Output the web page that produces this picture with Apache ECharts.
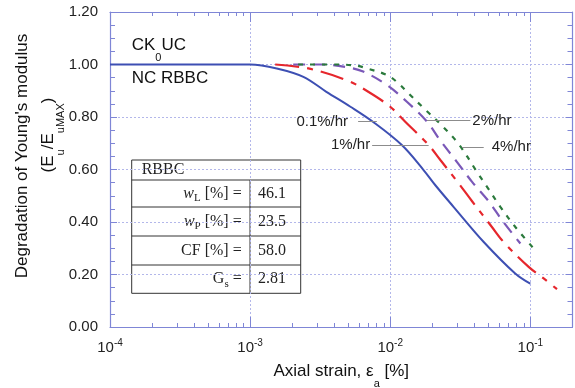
<!DOCTYPE html>
<html><head><meta charset="utf-8">
<script src="https://cdn.jsdelivr.net/npm/echarts@6/dist/echarts.min.js"></script>
<style>html,body{margin:0;padding:0;background:#fff}#c{width:575px;height:388px}</style>
</head><body><div id="c"></div>
<script>
// ---- data ----
const strain01 = [0.0001,0.001,0.00155,0.0024,0.0035,0.0052,0.0076,0.0121,0.0173,0.021,0.0283,0.0465,0.078,0.1];
const modulus01 = [1.0,1.0,0.985,0.953,0.896,0.839,0.78,0.693,0.598,0.540,0.458,0.324,0.204,0.165];
const strain1 = [0.00151,0.0026,0.005,0.00697,0.01,0.0128,0.0188,0.0228,0.0308,0.0384,0.0532,0.0644,0.0973,0.1245,0.155];
const modulus1 = [1.0,0.985,0.938,0.896,0.839,0.782,0.693,0.636,0.547,0.479,0.381,0.324,0.229,0.185,0.144];
const strain2 = [0.00203,0.00327,0.00477,0.00641,0.00946,0.01315,0.0183,0.0228,0.0299,0.0384,0.0504,0.0628,0.0849];
const modulus2 = [1.0,1.0,0.991,0.973,0.922,0.858,0.782,0.71,0.629,0.553,0.479,0.407,0.318];
const strain4 = [0.0022,0.00418,0.00581,0.00682,0.00946,0.01146,0.0135,0.0178,0.0234,0.0308,0.0416,0.0491,0.0611,0.0782,0.1057];
const modulus4 = [1.0,1.0,0.995,0.985,0.960,0.928,0.89,0.828,0.767,0.697,0.591,0.534,0.458,0.381,0.299];
const rateLabels = ['0.1%/hr','1%/hr','2%/hr','4%/hr'];
const xMajorTicks = [1e-4,1e-3,1e-2,1e-1];
const xMinorTicks = [];
[1e-4,1e-3,1e-2,1e-1].forEach(d => { for (let m = 2; m <= 9; m++) { const v = +(m*d).toPrecision(3); if (v <= 0.2) xMinorTicks.push(v); } });
const tableHeader = 'RBBC';
const tableLabels = ['{i|w}{s|L} [%] =','{i|w}{s|P} [%] =','CF [%] =','G{s|s} ='];
const tableValues = ['46.1','23.5','58.0','2.81'];
// leader lines: [strainStart, strainEnd, value]
const leaders = [[0.0059,0.00803,0.782],[0.00743,0.0188,0.693],[0.0183,0.0373,0.786],[0.0325,0.0465,0.686]];

// ---- styling ----
const axisColor = '#7f86d6';
const gridColor = '#b3b7ea';
const sans = 'Liberation Sans, Arial, sans-serif';
const serif = 'Liberation Serif, Times New Roman, serif';
const zip = (a,b) => a.map((v,i)=>[v,b[i]]);

function xAxisDef(pos, major, showLabel) {
  return {
    type:'log', logBase:10, min:1e-4, max:0.2, position:pos, gridIndex:0,
    axisLine:{show:major, lineStyle:{color:axisColor,width:1.2}},
    axisTick:{show:true, inside:true, length: major?10:4, customValues: major?xMajorTicks:xMinorTicks, lineStyle:{color:axisColor}},
    minorTick:{show:false},
    splitLine:{show: major && pos==='bottom', lineStyle:{color:gridColor, type:[2,2], width:1}},
    axisLabel:{show:showLabel, customValues:xMajorTicks, margin:11, color:'#222', fontSize:15, fontFamily:sans, lineHeight:20,
      formatter: v => '10{sup|' + Math.round(Math.log10(v)) + '}',
      rich:{sup:{fontSize:10, fontFamily:sans, color:'#222', verticalAlign:'top', lineHeight:11}}},
    name: (pos==='bottom' && major) ? 'Axial strain, ε{s|a} [%]' : '',
    nameLocation:'middle', nameGap:26, nameMoveOverlap:false,
    nameTextStyle:{color:'#111', fontSize:17, fontFamily:sans, lineHeight:36,
      rich:{s:{fontSize:11, fontFamily:sans, color:'#111', lineHeight:12, verticalAlign:'bottom'}}}
  };
}
function yAxisDef(pos, showLabel) {
  return {
    type:'value', min:0, max:1.2, interval:0.2, position:pos, gridIndex:0,
    axisLine:{show:true, lineStyle:{color:axisColor,width:1.2}},
    axisTick:{show:true, inside:true, length:7, lineStyle:{color:axisColor}},
    minorTick:{show:true, splitNumber:4, length:5, lineStyle:{color:axisColor}},
    splitLine:{show: pos==='left', lineStyle:{color:gridColor, type:[2,2], width:1}},
    axisLabel:{show:showLabel, margin:12, color:'#222', fontSize:15, fontFamily:sans, formatter: v => v.toFixed(2)}
  };
}
function leader(i, pos, dist) {
  const l = leaders[i];
  return {silent:true, animation:false, symbol:['none','none'],
    lineStyle:{color:'#8c8c8c', width:1, type:'solid'},
    label:{show:true, position:pos, distance:dist, formatter:rateLabels[i], color:'#222', fontSize:15, fontFamily:sans},
    emphasis:{disabled:true},
    data:[[{coord:[l[0],l[2]]},{coord:[l[1],l[2]]}]]};
}
function lineSeries(name, s, m, color, type, w, ml) {
  return {name, type:'line', data:zip(s,m), xAxisIndex:0, yAxisIndex:0, symbol:'none', showSymbol:false,
    smooth:0.35, animation:false, silent:true,
    lineStyle:{color, width:w, type}, emphasis:{disabled:true}, markLine:ml, z:3};
}

// table graphic
const tL = 131.7, tR = 300.7, tT = 160, colX = 250;
const rowLines = [180, 207, 236, 265, 293.3];
const tableEls = [];
tableEls.push({type:'rect', shape:{x:tL, y:tT, width:tR-tL, height:rowLines[4]-tT}, style:{fill:'#fff', stroke:'#333', lineWidth:1}});
for (let i=0;i<4;i++) tableEls.push({type:'line', shape:{x1:tL,y1:rowLines[i],x2:tR,y2:rowLines[i]}, style:{stroke:'#333', lineWidth:1}});
tableEls.push({type:'line', shape:{x1:colX,y1:rowLines[0],x2:colX,y2:rowLines[4]}, style:{stroke:'#333', lineWidth:1}});
tableEls.push({type:'text', x:tL+10, y:(tT+rowLines[0])/2, style:{text:tableHeader, font:'16px '+serif, fill:'#222', textAlign:'left', textVerticalAlign:'middle'}});
const cellRich = {i:{fontStyle:'italic', fontSize:16, fontFamily:serif, fill:'#222'}, s:{fontSize:11, fontFamily:serif, fill:'#222', lineHeight:14, verticalAlign:'bottom'}};
for (let i=0;i<4;i++) {
  const cy = (rowLines[i]+rowLines[i+1])/2;
  tableEls.push({type:'text', x:241.7, y:cy, style:{text:tableLabels[i], font:'16px '+serif, fill:'#222', lineHeight:20, textAlign:'right', textVerticalAlign:'middle', rich:cellRich}});
  tableEls.push({type:'text', x:258, y:cy, style:{text:tableValues[i], font:'16px '+serif, fill:'#222', textAlign:'left', textVerticalAlign:'middle'}});
}
const subRich = {s:{fontSize:11, fontFamily:sans, fill:'#111', lineHeight:12, verticalAlign:'bottom'}};
const textEls = [
  {type:'text', x:131.7, y:45, style:{text:'CK{s|0}UC', font:'17px '+sans, fill:'#111', lineHeight:36, textAlign:'left', textVerticalAlign:'middle', rich:subRich}},
  {type:'text', x:131.7, y:78, style:{text:'NC RBBC', font:'17px '+sans, fill:'#111', textAlign:'left', textVerticalAlign:'middle'}},
  {type:'text', x:22, y:156, rotation:Math.PI/2, style:{text:"Degradation of Young's modulus", font:'17px '+sans, fill:'#111', textAlign:'center', textVerticalAlign:'middle'}},
  {type:'text', x:48, y:135, rotation:Math.PI/2, style:{text:'(E{s|u}/E{s|uMAX})', font:'17px '+sans, fill:'#111', lineHeight:36, textAlign:'center', textVerticalAlign:'middle', rich:subRich}}
];

const chart = echarts.init(document.getElementById('c'), null, {renderer:'canvas'});
chart.setOption({
  animation:false,
  backgroundColor:'#fff',
  grid:{left:110, right:2.5, top:12, bottom:61, containLabel:false, outerBoundsMode:'none'},
  xAxis:[xAxisDef('bottom',true,true), xAxisDef('bottom',false,false), xAxisDef('top',true,false), xAxisDef('top',false,false)],
  yAxis:[yAxisDef('left',true), yAxisDef('right',false)],
  series:[
    lineSeries(rateLabels[0], strain01, modulus01, '#3d4fb3', 'solid', 2, leader(0,'start',10)),
    lineSeries(rateLabels[1], strain1, modulus1, '#e6262c', [24,8,6,8], 2.2, leader(1,'start',2)),
    lineSeries(rateLabels[2], strain2, modulus2, '#7a58b8', [12,8], 2.2, leader(2,'end',2)),
    lineSeries(rateLabels[3], strain4, modulus4, '#2b7a3c', [5,7], 2.2, leader(3,'end',8))
  ],
  graphic:[{type:'group', z:100, children: tableEls.concat(textEls)}]
});
</script>
</body></html>
